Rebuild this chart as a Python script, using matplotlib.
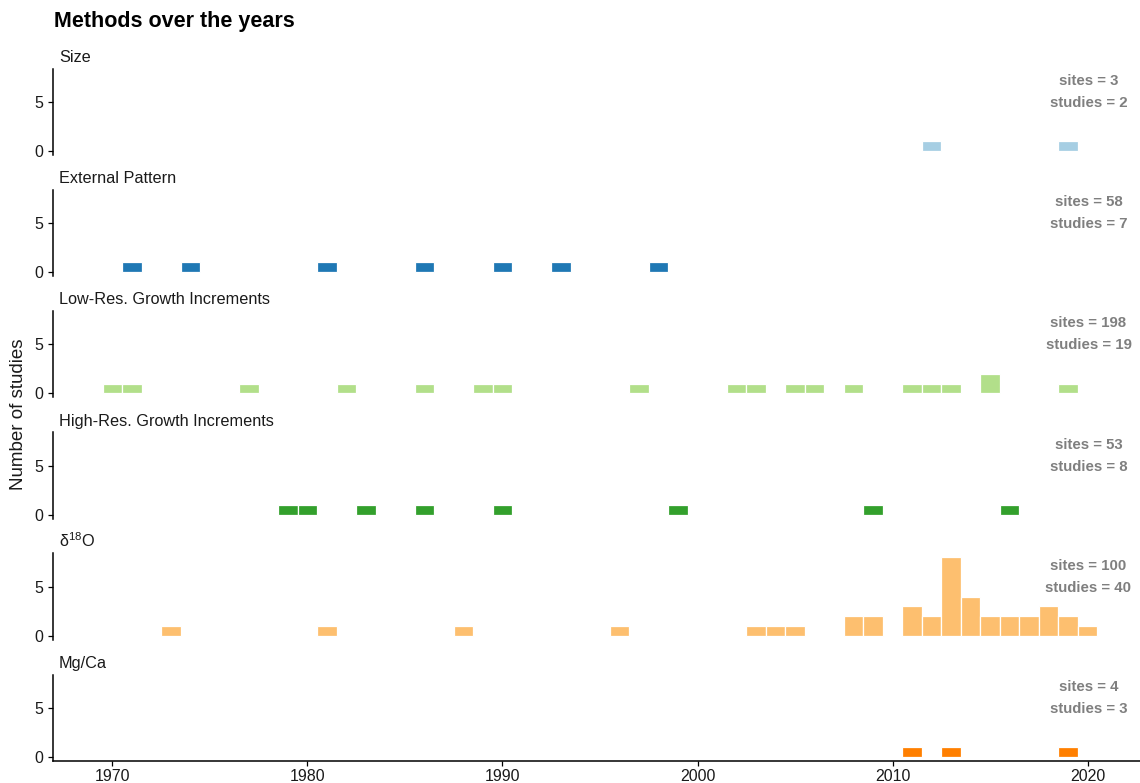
import matplotlib
matplotlib.use("Agg")
import matplotlib.pyplot as plt

plt.rcParams["font.family"] = ["Liberation Sans", "DejaVu Sans"]
plt.rcParams["mathtext.fontset"] = "custom"
plt.rcParams["mathtext.rm"] = "Liberation Sans"
plt.rcParams["mathtext.it"] = "Liberation Sans:italic"

# Methods (facets), their colours and summary counts
methods = ["Size", "External Pattern", "Low-Res. Growth Increments",
           "High-Res. Growth Increments", "δ$\\mathregular{^{18}}$O", "Mg/Ca"]
colors = ["#A6CEE3", "#1F78B4", "#B2DF8A", "#33A02C", "#FDBF6F", "#FF7F00"]
sites = [3, 58, 198, 53, 100, 4]
studies = [2, 7, 19, 8, 40, 3]

# Publication years and number of studies per year, per method
size_years = [2012, 2019]
size_counts = [1, 1]

external_years = [1971, 1974, 1981, 1986, 1990, 1993, 1998]
external_counts = [1, 1, 1, 1, 1, 1, 1]

lowres_years = [1970, 1971, 1977, 1982, 1986, 1989, 1990, 1997, 2002, 2003,
                2005, 2006, 2008, 2011, 2012, 2013, 2015, 2019]
lowres_counts = [1, 1, 1, 1, 1, 1, 1, 1, 1, 1, 1, 1, 1, 1, 1, 1, 2, 1]

highres_years = [1979, 1980, 1983, 1986, 1990, 1999, 2009, 2016]
highres_counts = [1, 1, 1, 1, 1, 1, 1, 1]

d18o_years = [1973, 1981, 1988, 1996, 2003, 2004, 2005, 2008, 2009, 2011,
              2012, 2013, 2014, 2015, 2016, 2017, 2018, 2019, 2020]
d18o_counts = [1, 1, 1, 1, 1, 1, 1, 2, 2, 3, 2, 8, 4, 2, 2, 2, 3, 2, 1]

mgca_years = [2011, 2013, 2019]
mgca_counts = [1, 1, 1]

years = [size_years, external_years, lowres_years, highres_years, d18o_years, mgca_years]
counts = [size_counts, external_counts, lowres_counts, highres_counts, d18o_counts, mgca_counts]

x_ticks = [1970, 1980, 1990, 2000, 2010, 2020]
y_ticks = [0, 5]

W, H = 1140, 783
fig = plt.figure(figsize=(W / 100, H / 100), dpi=100)

left_px, right_px = 53, 1147
unit_px = 9.8
y_lo, y_hi = -0.4, 8.4
step_px = 121.2
first_zero_px = 151

grey = "#7F7F7F"
ink = "#1a1a1a"
for k in range(len(methods)):
    zero_px = first_zero_px + step_px * k
    top_px = zero_px - y_hi * unit_px
    bot_px = zero_px - y_lo * unit_px
    ax = fig.add_axes([left_px / W, 1 - bot_px / H,
                       (right_px - left_px) / W, (bot_px - top_px) / H])
    ax.bar(years[k], counts[k], width=1.0, color=colors[k],
           edgecolor="white", linewidth=0.9)
    ax.set_xlim(1966.95, 2023.05)
    ax.set_ylim(y_lo, y_hi)
    ax.set_yticks(y_ticks)
    for s in ["top", "right"]:
        ax.spines[s].set_visible(False)
    ax.spines["left"].set_linewidth(1.1)
    ax.spines["bottom"].set_linewidth(1.1)
    ax.tick_params(axis="y", length=3.3, width=0.9, pad=3.5, labelsize=11.5,
                   labelcolor=ink)
    if k < len(methods) - 1:
        ax.spines["bottom"].set_visible(False)
        ax.set_xticks([])
    else:
        ax.set_xticks(x_ticks)
        ax.tick_params(axis="x", length=3.3, width=0.9, pad=2.5, labelsize=11.5,
                       labelcolor=ink)
    # facet label
    fig.text(59 / W, 1 - (zero_px - 89) / H, methods[k], fontsize=11.7,
             ha="left", va="baseline", color=ink)
    # summary annotation
    ax.text(2020.05, 7.15, f"sites = {sites[k]}", ha="center", va="center",
            fontsize=10.8, fontweight="bold", color=grey)
    ax.text(2020.05, 4.9, f"studies = {studies[k]}", ha="center", va="center",
            fontsize=10.8, fontweight="bold", color=grey)

fig.text(54 / W, 1 - 21 / H, "Methods over the years", fontsize=15.5,
         fontweight="bold", ha="left", va="center")
fig.text(19 / W, 1 - 414 / H, "Number of studies", fontsize=13.5,
         rotation=90, ha="center", va="center", color=ink)

fig.savefig("out.png", dpi=100)
